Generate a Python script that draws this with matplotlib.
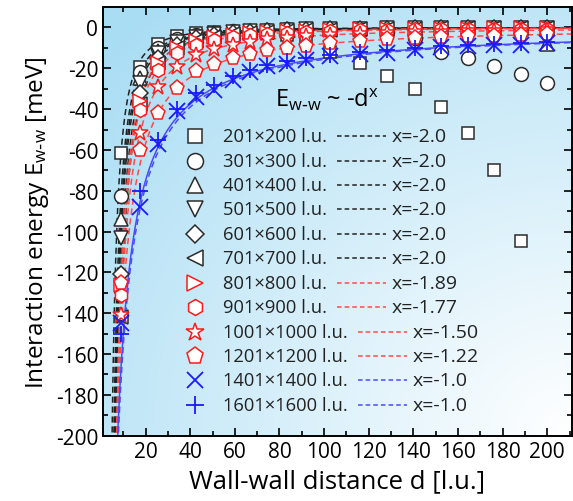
import numpy as np
import matplotlib.pyplot as plt
from matplotlib.colors import LinearSegmentedColormap

plt.rcParams['font.family'] = ['Open Sans', 'DejaVu Sans']
plt.rcParams['mathtext.default'] = 'regular'
plt.rcParams['axes.unicode_minus'] = False

# wall-wall distance [l.u.]
d = [9, 17.5, 25.6, 34, 42.5, 50.8, 59, 66.7, 74.6, 83.2, 91.7, 102.5,
     116, 128, 140.5, 152.5, 164.5, 176, 188, 200]

# interaction energy [meV] for each box size
e_201 = [-61.7, -19.5, -8.0, -4.3, -2.8, -2.2, -2.0, -2.3, -2.9, -3.8, -5.6, -11.8,
         -17.2, -23.6, -30.0, -39.0, -51.6, -70.0, -104.7]
e_301 = [-82.7, -21.9, -10.2, -5.8, -3.7, -2.6, -1.9, -1.5, -1.2, -1.0, -0.9, -0.9,
         -1.2, -2.2, -5.0, -12.0, -15.0, -18.7, -22.6, -27.0]
e_401 = [-94.0, -24.8, -11.6, -6.6, -4.2, -2.9, -2.2, -1.7, -1.4, -1.1, -0.9, -0.7,
         -0.6, -0.5, -0.4, -0.4, -0.4, -0.5, -0.9, -8.0]
e_501 = [-103.0, -27.3, -12.7, -7.2, -4.6, -3.2, -2.4, -1.9, -1.5, -1.2, -1.0, -0.8,
         -0.6, -0.5, -0.4, -0.36, -0.31, -0.27, -0.24, -0.21]
e_601 = [-121.0, -32.0, -15.0, -8.5, -5.4, -3.8, -2.8, -2.2, -1.8, -1.4, -1.2, -0.9,
         -0.7, -0.6, -0.5, -0.42, -0.36, -0.32, -0.28, -0.25]
e_701 = [-142.0, -37.6, -17.6, -9.9, -6.4, -4.5, -3.3, -2.6, -2.1, -1.7, -1.4, -1.1,
         -0.85, -0.7, -0.58, -0.49, -0.42, -0.37, -0.33, -0.29]
e_801 = [-126.0, -35.8, -17.4, -10.2, -6.7, -4.8, -3.6, -2.9, -2.3, -1.9, -1.6, -1.3,
         -1.0, -0.83, -0.70, -0.60, -0.52, -0.46, -0.40, -0.36]
e_901 = [-131.0, -40.4, -20.6, -12.5, -8.4, -6.1, -4.7, -3.8, -3.1, -2.6, -2.1, -1.8,
         -1.4, -1.2, -1.0, -0.87, -0.76, -0.68, -0.60, -0.54]
e_1001 = [-141.0, -51.9, -29.3, -19.2, -13.7, -10.5, -8.4, -7.0, -5.9, -5.0, -4.3, -3.7,
          -3.0, -2.6, -2.3, -2.0, -1.8, -1.6, -1.5, -1.3]
e_1201 = [-125.0, -60.0, -42.0, -29.5, -21.5, -18.0, -15.2, -13.1, -11.2, -10.0, -9.1, -7.6,
          -6.7, -5.9, -5.3, -4.8, -4.4, -4.0, -3.7, -3.4]
e_1401 = [-145.0, -88.0, -57.0, -41.0, -34.0, -30.5, -25.6, -22.0, -19.0, -18.0, -16.0, -14.0,
          -13.0, -12.5, -11.0, -9.8, -9.3, -8.4, -8.4, -7.5]
e_1601 = [-150.0, -80.0, -55.0, -40.0, -32.0, -28.0, -24.0, -21.0, -18.5, -16.5, -15.0, -13.5,
          -12.0, -11.0, -10.0, -9.2, -8.6, -8.0, -7.6, -7.0]

series = [e_201, e_301, e_401, e_501, e_601, e_701, e_801, e_901, e_1001, e_1201, e_1401, e_1601]
labels = ["201×200 l.u.", "301×300 l.u.", "401×400 l.u.", "501×500 l.u.", "601×600 l.u.",
          "701×700 l.u.", "801×800 l.u.", "901×900 l.u.", "1001×1000 l.u.", "1201×1200 l.u.",
          "1401×1400 l.u.", "1601×1600 l.u."]

# power-law fits E = -A d^x
exponents = [-2.0, -2.0, -2.0, -2.0, -2.0, -2.0, -1.89, -1.77, -1.50, -1.22, -1.0, -1.0]
exp_labels = ["x=-2.0", "x=-2.0", "x=-2.0", "x=-2.0", "x=-2.0", "x=-2.0",
              "x=-1.89", "x=-1.77", "x=-1.50", "x=-1.22", "x=-1.0", "x=-1.0"]
prefactors = [5000, 6700, 7600, 8350, 9800, 11500, 8000, 6400, 3800, 2200, 1500, 1560]

markers = ['s', 'o', '^', 'v', 'D', '<', '>', 'h', '*', 'p', 'x', '+']
msizes = [9, 10, 10, 10, 8, 10, 10, 10, 12, 11, 11, 12]
BLACK, RED, BLUE = '#2b2b2b', '#ff1a1a', '#1a1aff'
colors = [BLACK] * 6 + [RED] * 4 + [BLUE] * 2
dash_colors = ['#222222'] * 6 + ['#ff4a4a'] * 4 + ['#4a4aff'] * 2
fit_styles = [(0, (4, 2.5))] * 10 + ['-', (0, (4, 2.5))]

fig = plt.figure(figsize=(5.73, 5.02), dpi=100)
ax = fig.add_axes([0.180, 0.130, 0.818, 0.854])

# background: sky blue in the top-left fading to white at bottom-right
X, Y = np.meshgrid(np.linspace(0, 1, 300), np.linspace(0, 1, 300))
r = np.clip(np.sqrt((1 - X) ** 2 + Y ** 2) / 1.35, 0, 1)
bg = LinearSegmentedColormap.from_list('bg', ['#ffffff', '#a9ddf4'])
ax.imshow(r, cmap=bg, vmin=0, vmax=1, origin='lower', extent=[0, 1, 0, 1],
          transform=ax.transAxes, aspect='auto', zorder=0, interpolation='bilinear')

xs = np.linspace(3.5, 215, 600)
for A, x, c, ls in zip(prefactors, exponents, dash_colors, fit_styles):
    ax.plot(xs, -A * xs ** x, ls=ls, color=c, lw=1.1, zorder=2)

for e, m, ms, c in zip(series, markers, msizes, colors):
    dd = d[:len(e)]
    if m in ('x', '+'):
        ax.plot(dd, e, ls='none', marker=m, ms=ms, mew=1.3, color=c, zorder=3)
    else:
        ax.plot(dd, e, ls='none', marker=m, ms=ms, mew=1.1, mec=c, mfc='white', zorder=3)

ax.set_xlim(1, 211)
ax.set_ylim(-200, 10)
ax.set_xticks(np.arange(20, 201, 20))
ax.set_xticks(np.arange(10, 211, 10), minor=True)
ax.set_yticks(np.arange(-200, 1, 20))
ax.set_yticks(np.arange(-190, 10, 10), minor=True)
ax.tick_params(which='both', direction='in', top=True, right=True, width=1.2, labelsize=15)
ax.tick_params(which='major', length=6)
ax.tick_params(which='minor', length=3.5)
for s in ax.spines.values():
    s.set_linewidth(1.4)

ax.set_xlabel("Wall-wall distance d [l.u.]", fontsize=18.5, labelpad=5)
ax.set_ylabel(r"Interaction energy E$_{w\text{-}w}$ [meV]", fontsize=17.5, labelpad=3)

# hand-built legend: marker, label, dashed fit line, exponent
ax.text(0.367, 0.786, r"E$_{w\text{-}w}$ ~ -d$^{x}$", transform=ax.transAxes, fontsize=17,
        va='center', ha='left', zorder=5)
row0, step = 0.699, 0.057
for i in range(12):
    y = row0 - i * step
    m = markers[i]
    if m in ('x', '+'):
        ax.plot([0.196], [y], marker=m, ms=msizes[i] + 1, mew=1.3, color=colors[i],
                transform=ax.transAxes, zorder=5)
    else:
        ax.plot([0.196], [y], marker=m, ms=msizes[i] + 1.5, mew=1.1, mec=colors[i],
                mfc='white', transform=ax.transAxes, zorder=5)
    ax.text(0.256, y, labels[i], transform=ax.transAxes, fontsize=13.2, va='center',
            ha='left', color='#222222', zorder=5)
    x0 = 0.499 if i < 8 else 0.544
    ax.plot([x0, x0 + 0.104], [y, y], ls=(0, (3, 2)), lw=1.1, color=dash_colors[i],
            transform=ax.transAxes, zorder=5)
    ax.text(x0 + 0.117, y, exp_labels[i], transform=ax.transAxes, fontsize=14,
            va='center', ha='left', color='#222222', zorder=5)

fig.savefig("out.png", dpi=100)
